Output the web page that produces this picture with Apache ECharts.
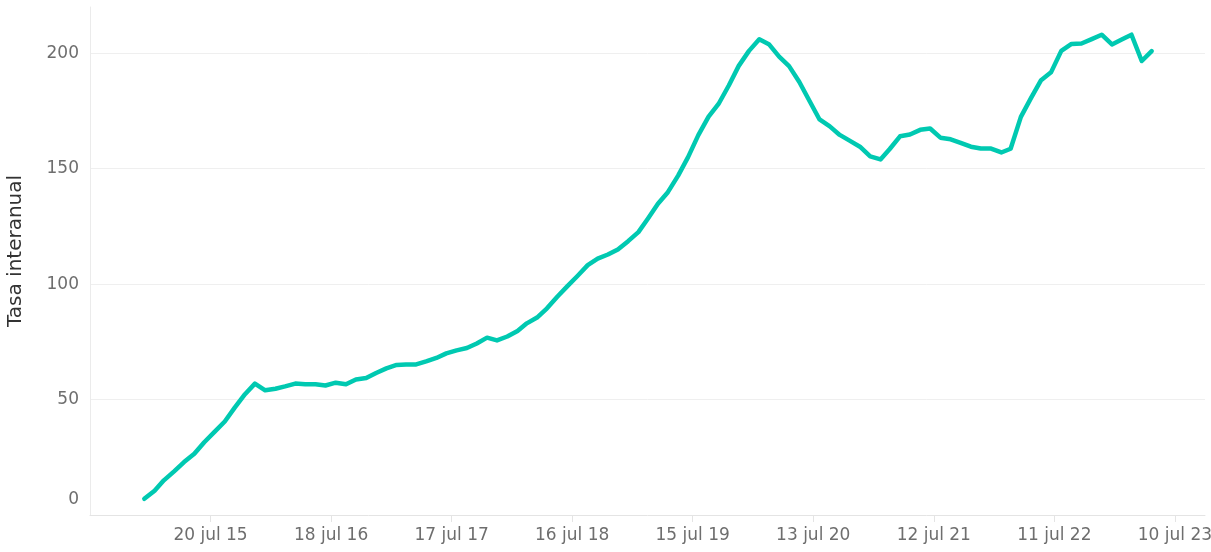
<!DOCTYPE html>
<html>
<head>
<meta charset="utf-8">
<script src="https://cdn.jsdelivr.net/npm/echarts@6/dist/echarts.min.js"></script>
<style>
  html, body { margin: 0; padding: 0; background: #fff; }
  #chart { width: 1211px; height: 552px; }
</style>
</head>
<body>
<div id="chart"></div>
<script>
// monthly series, first point = Jan 2015
const START_YEAR = 2015
const START_MONTH = 0

const tasaValues = [
  7.0, 10.5, 15.0, 18.9, 22.9, 26.5, 31.5, 36.0, 40.5, 46.5,
  52.3, 56.9, 54.0, 54.7, 55.7, 56.9, 56.6, 56.6, 56.1, 57.3,
  56.6, 58.7, 59.3, 61.5, 63.5, 65.0, 65.2, 65.2, 66.5, 68.0,
  70.0, 71.3, 72.3, 74.3, 76.8, 75.6, 77.3, 79.7, 83.0, 85.5,
  89.5, 94.5, 99.0, 103.5, 108.2, 111.0, 112.8, 115.0, 118.6, 122.5,
  128.2, 134.8, 139.8, 147.0, 155.0, 164.5, 172.5, 178.0, 186.0, 194.5,
  201.0, 206.0, 203.9, 198.5, 194.4, 187.5, 179.5, 171.3, 168.3, 164.6,
  162.0, 159.5, 155.3, 154.0, 158.5, 164.0, 164.8, 166.8, 167.4, 163.4,
  162.7, 161.2, 159.5, 158.7, 158.7, 157.0, 158.6, 172.4, 180.4, 188.3,
  191.7, 201.0, 204.0, 204.2, 206.1, 208.0, 203.8, 206.0, 208.0, 196.6,
  200.9
]

const xTickDates = ['2015-07-20', '2016-07-18', '2017-07-17', '2018-07-16', '2019-07-15',
  '2020-07-13', '2021-07-12', '2022-07-11', '2023-07-10']
const xTickLabels = ['20 jul 15', '18 jul 16', '17 jul 17', '16 jul 18', '15 jul 19',
  '13 jul 20', '12 jul 21', '11 jul 22', '10 jul 23']
const X_MIN = '2014-07-21'
const X_MAX = '2023-10-09'

const yTicks = [0, 50, 100, 150, 200]

const LINE_COLOR = '#00C9B1'
const LABEL_COLOR = '#6e6e6e'
const FONT = '"DejaVu Sans", sans-serif'

function toMs(s) {
  const [y, m, d] = s.split('-').map(Number)
  return Date.UTC(y, m - 1, d)
}

const tickMs = xTickDates.map(toMs)
const seriesData = tasaValues.map((v, i) => [Date.UTC(START_YEAR, START_MONTH + i, 1), v])

const chart = echarts.init(document.getElementById('chart'))

chart.setOption({
  animation: false,
  textStyle: { fontFamily: FONT },
  grid: { left: 90, right: 6, top: 7, bottom: 37, outerBoundsMode: 'none', containLabel: false },
  xAxis: {
    type: 'value',
    min: toMs(X_MIN),
    max: toMs(X_MAX),
    axisLine: { show: true, lineStyle: { color: '#e4e4e4', width: 1 } },
    axisTick: {
      show: true,
      length: 7,
      customValues: tickMs,
      lineStyle: { color: '#e4e4e4' }
    },
    axisLabel: {
      customValues: tickMs,
      margin: 12,
      color: LABEL_COLOR,
      fontSize: 17,
      fontFamily: FONT,
      formatter: (v) => {
        const idx = tickMs.indexOf(v)
        return idx >= 0 ? xTickLabels[idx] : ''
      }
    },
    splitLine: { show: false }
  },
  yAxis: {
    type: 'value',
    min: 0,
    max: 220,
    interval: 50,
    name: 'Tasa interanual',
    nameLocation: 'middle',
    nameRotate: 90,
    nameGap: 64,
    nameTextStyle: {
      color: '#333',
      fontSize: 20,
      fontFamily: FONT,
      padding: [0, 0, 0, 20]
    },
    axisLine: { show: true, lineStyle: { color: '#ebebeb' } },
    axisTick: { show: false },
    axisLabel: {
      margin: 11,
      color: LABEL_COLOR,
      fontSize: 17,
      fontFamily: FONT,
      showMaxLabel: false,
      formatter: (v) => {
        if (!yTicks.includes(v)) return ''
        return v === 0 ? '{z|0}' : String(v)
      },
      rich: {
        z: { fontSize: 17, color: LABEL_COLOR, fontFamily: FONT, padding: [0, 0, 31, 0] }
      }
    },
    splitLine: {
      show: true,
      showMinLine: false,
      showMaxLine: false,
      lineStyle: { color: '#efefef', width: 1 }
    }
  },
  series: [{
    type: 'line',
    data: seriesData,
    showSymbol: false,
    lineStyle: { color: LINE_COLOR, width: 4.5, cap: 'round', join: 'round' },
    itemStyle: { color: LINE_COLOR }
  }]
})
</script>
</body>
</html>
